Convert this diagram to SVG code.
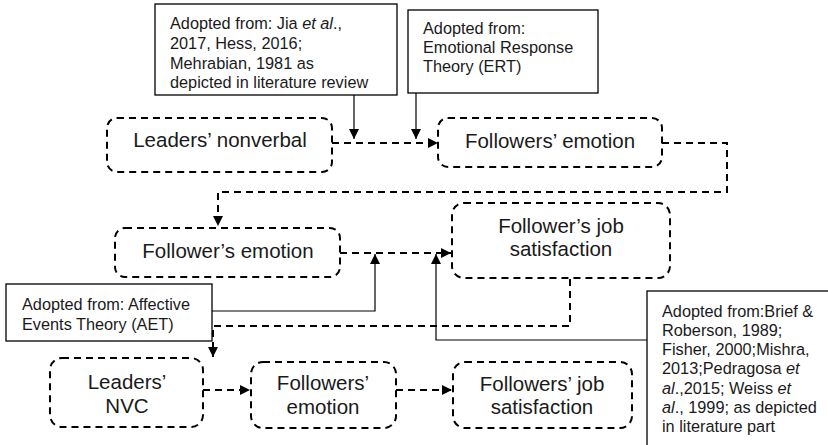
<svg xmlns="http://www.w3.org/2000/svg" width="828" height="445" viewBox="0 0 828 445">
<style>
.node{fill:#fff;stroke:#000;stroke-width:2;stroke-dasharray:7 5}
.nt{font-family:"Liberation Sans",Arial,sans-serif;font-size:20.5px;fill:#1a1a1a;text-anchor:middle}
.note{fill:#fff;stroke:#000;stroke-width:1.3}
.at{font-family:"Liberation Sans",Arial,sans-serif;font-size:16.3px;fill:#1a1a1a}
.dash{fill:none;stroke:#000;stroke-width:2;stroke-dasharray:7 5}
.solid{fill:none;stroke:#000;stroke-width:1.2}
</style>
<defs>
<marker id="ah" viewBox="0 0 10 10" refX="10" refY="5" markerWidth="11" markerHeight="10" orient="auto" markerUnits="userSpaceOnUse">
<path d="M0,0 L10,5 L0,10 z" fill="#000"/>
</marker>
</defs>
<rect width="828" height="445" fill="#fff"/>
<g id="connectors">
<path class="dash" d="M332,143 L438,143" marker-end="url(#ah)"/>
<path class="dash" d="M662,143 L727,143 L727,192 L218,192 L218,226" marker-end="url(#ah)"/>
<path class="dash" d="M340,253 L451,253" marker-end="url(#ah)"/>
<path class="dash" d="M570,279 L570,326 L213,326 L213,357" marker-end="url(#ah)"/>
<path class="dash" d="M203,390 L250,390" marker-end="url(#ah)"/>
<path class="dash" d="M396,390 L452,390" marker-end="url(#ah)"/>
<path class="solid" d="M354,95 L354,139" marker-end="url(#ah)"/>
<path class="solid" d="M416,93 L416,139" marker-end="url(#ah)"/>
<path class="solid" d="M212,311 L375,311 L375,254" marker-end="url(#ah)"/>
<path class="solid" d="M647,340 L436,340 L436,254" marker-end="url(#ah)"/>
</g>
<g id="note-jia">
<rect class="note" x="155" y="4" width="242" height="91"/>
<text class="at" x="170" y="29">Adopted from: Jia <tspan font-style="italic">et al</tspan>.,</text>
<text class="at" x="170" y="49">2017, Hess, 2016;</text>
<text class="at" x="170" y="69">Mehrabian, 1981 as</text>
<text class="at" x="170" y="88">depicted in literature review</text>
</g>
<g id="note-ert">
<rect class="note" x="408" y="10" width="190" height="83"/>
<text class="at" x="423" y="34">Adopted from:</text>
<text class="at" x="423" y="53">Emotional Response</text>
<text class="at" x="423" y="72">Theory (ERT)</text>
</g>
<g id="note-aet">
<rect class="note" x="6" y="284" width="206" height="57"/>
<text class="at" x="22" y="310">Adopted from: Affective</text>
<text class="at" x="22" y="330">Events Theory (AET)</text>
</g>
<g id="note-brief">
<rect class="note" x="647" y="291" width="182" height="160"/>
<text class="at" x="662" y="317">Adopted from:Brief &amp;</text>
<text class="at" x="662" y="336">Roberson, 1989;</text>
<text class="at" x="662" y="355">Fisher, 2000;Mishra,</text>
<text class="at" x="662" y="374">2013;Pedragosa <tspan font-style="italic">et</tspan></text>
<text class="at" x="662" y="394"><tspan font-style="italic">al</tspan>.,2015; Weiss <tspan font-style="italic">et</tspan></text>
<text class="at" x="662" y="413"><tspan font-style="italic">al</tspan>., 1999; as depicted</text>
<text class="at" x="662" y="432">in literature part</text>
</g>
<g id="node-leaders-nonverbal">
<rect class="node" x="107" y="118" width="225" height="54" rx="10"/>
<text class="nt" x="220" y="147">Leaders’ nonverbal</text>
</g>
<g id="node-followers-emotion-top">
<rect class="node" x="438" y="118" width="224" height="49" rx="10"/>
<text class="nt" x="550" y="148">Followers’ emotion</text>
</g>
<g id="node-follower-emotion">
<rect class="node" x="115" y="228" width="225" height="49" rx="10"/>
<text class="nt" x="228" y="258">Follower’s emotion</text>
</g>
<g id="node-follower-job">
<rect class="node" x="452" y="203" width="218" height="75" rx="12"/>
<text class="nt" x="561" y="233">Follower’s job</text>
<text class="nt" x="561" y="256">satisfaction</text>
</g>
<g id="node-leaders-nvc">
<rect class="node" x="50" y="358" width="153" height="69" rx="12"/>
<text class="nt" x="127" y="389">Leaders’</text>
<text class="nt" x="127" y="413">NVC</text>
</g>
<g id="node-followers-emotion-bottom">
<rect class="node" x="251" y="362" width="145" height="66" rx="12"/>
<text class="nt" x="323" y="390">Followers’</text>
<text class="nt" x="323" y="414">emotion</text>
</g>
<g id="node-followers-job">
<rect class="node" x="453" y="362" width="179" height="66" rx="12"/>
<text class="nt" x="542" y="391">Followers’ job</text>
<text class="nt" x="542" y="414">satisfaction</text>
</g>
</svg>
